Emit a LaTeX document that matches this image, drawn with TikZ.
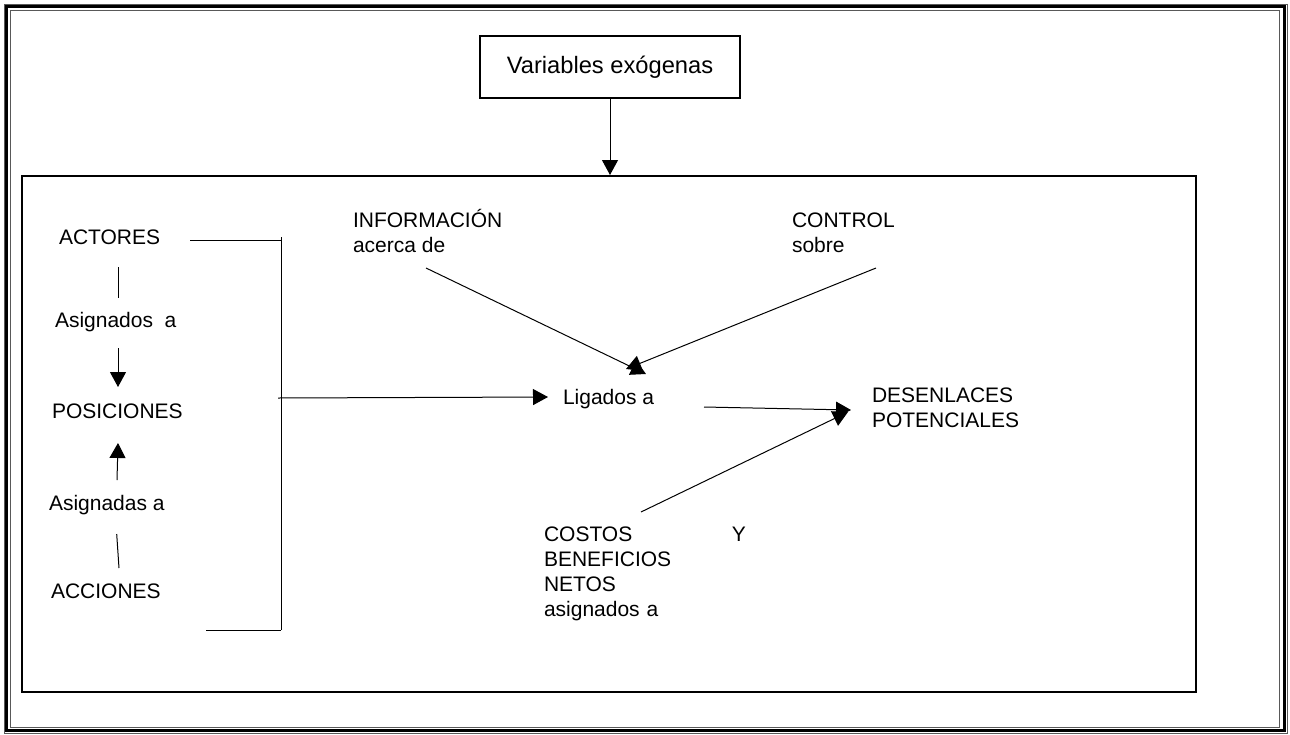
\documentclass[tikz,border=0pt]{standalone}
\usepackage{fontspec}
\setmainfont{Liberation Sans}
\usetikzlibrary{arrows.meta}
\newcommand{\tstrut}{\rule{0pt}{11pt}}
\begin{document}
\begin{tikzpicture}[x=0.5pt,y=-0.5pt,
  txt/.style={inner sep=0pt, outer sep=0pt, font=\fontsize{10.5}{12.5}\selectfont, anchor=base west},
  mtxt/.style={inner sep=0pt, outer sep=0pt, font=\fontsize{10.5}{12.5}\selectfont, anchor=north west, align=left},
  box/.style={draw, line width=1pt, inner sep=0pt},
  ln/.style={line width=0.5pt},
  arr/.style={line width=0.5pt, -{Triangle[length=7.5pt,width=8pt]}},
  thinframe/.style={draw=black!65, line width=0.5pt},
  thickframe/.style={draw=black, line width=1.5pt}
  ]
\useasboundingbox (0,0) rectangle (1290,734);
% page frame
\path[thinframe] (4,4) rectangle (1287,733);
\path[thickframe] (6.5,6.5) rectangle (1284,730.5);
\path[thinframe] (10.5,10.5) rectangle (1279.5,727.5);

% boxes
\node[box, minimum width=130pt, minimum height=31pt, font=\fontsize{11.85}{14}\selectfont] (exo) at (610,67) {Variables exógenas};
\node[box, minimum width=587pt, minimum height=258pt] (sys) at (609,434) {};
\draw[arr] (exo.south) -- (exo.south |- sys.north);

% left column
\node[txt] (act) at (59,244) {ACTORES};
\node[txt] (asg1) at (55,327) {Asignados\ \ a};
\node[txt] (pos) at (52,418) {POSICIONES};
\node[txt] (asg2) at (49,510) {Asignadas a};
\node[txt] (acc) at (51,598) {ACCIONES};

\coordinate (v1a) at (118.5,267);
\coordinate (v1b) at (118.5,298);
\coordinate (v2a) at (118,348);
\coordinate (v2b) at (118,387);
\coordinate (v3a) at (117,480);
\coordinate (v3b) at (118,443);
\coordinate (v4a) at (116.7,534);
\coordinate (v4b) at (119,568);
\draw[ln] (v1a) -- (v1b);
\draw[arr] (v2a) -- (v2b);
\draw[arr] (v3a) -- (v3b);
\draw[ln] (v4a) -- (v4b);

% bracket
\coordinate (bt0) at (190,240.5);
\coordinate (bt1) at (281,240.5);
\coordinate (bv0) at (281,237);
\coordinate (bv1) at (281,630);
\coordinate (bb0) at (206,630);
\coordinate (bm) at (278,398);
\draw[ln] (bt0) -- (bt1);
\draw[ln] (bv0) -- (bv1);
\draw[ln] (bb0) -- (bv1);

% middle texts
\node[mtxt] (info) at (353,205) {\tstrut INFORMACIÓN\\acerca de};
\node[mtxt] (ctrl) at (792,205) {\tstrut CONTROL\\sobre};
\node[txt] (lig) at (563,404) {Ligados a};
\node[mtxt] (des) at (872,380) {\tstrut DESENLACES\\POTENCIALES};
\node[mtxt, text width=101pt] (cos) at (544,519) {\tstrut COSTOS\hfill Y\\BENEFICIOS\\NETOS\\asignados a};

\coordinate (ligin) at (548,397);
\draw[arr] (bm) -- (ligin);

\coordinate (i0) at (426,268);
\coordinate (i1) at (646,374);
\coordinate (c0) at (876,268);
\coordinate (c1) at (626,369);
\draw[arr] (i0) -- (i1);
\draw[arr] (c0) -- (c1);

\coordinate (l0) at (704,407);
\coordinate (l1) at (851,410);
\draw[arr] (l0) -- (l1);
\coordinate (k0) at (641,512);
\coordinate (k1) at (848,412);
\draw[arr] (k0) -- (k1);
\end{tikzpicture}
\end{document}
